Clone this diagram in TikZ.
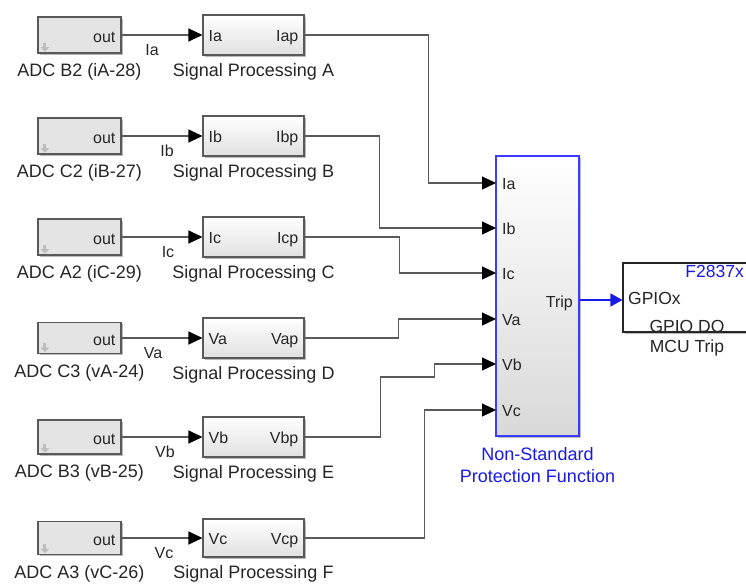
\documentclass[tikz,border=0pt]{standalone}
\usepackage{fontspec}
\setmainfont{Liberation Sans}
\usetikzlibrary{arrows.meta,shadows,calc}
\definecolor{linegray}{HTML}{5A5A5A}
\definecolor{txt}{HTML}{262626}
\definecolor{sblue}{HTML}{1A1AE6}
\definecolor{bborder}{HTML}{3C3CFF}
\definecolor{adcfill}{HTML}{E4E4E4}
\definecolor{icongray}{HTML}{BDBDBD}
\tikzset{
  lbl/.style={inner sep=0pt, text=txt, font=\fontsize{18}{20}\selectfont},
  port/.style={inner sep=0pt, text=txt, font=\fontsize{16}{18}\selectfont},
  gport/.style={inner sep=0pt, text=txt, font=\fontsize{17.5}{19}\selectfont},
  adcbox/.style={draw=black!65, line width=1.1pt, fill=adcfill, minimum width=83pt, inner sep=0pt,
    drop shadow={shadow xshift=1.5pt, shadow yshift=-1.5pt, fill=black!45, opacity=.6}},
  spbox/.style={draw=black!65, line width=1.1pt, top color=white, bottom color=black!12, minimum width=101pt, minimum height=40pt, inner sep=0pt,
    drop shadow={shadow xshift=1.5pt, shadow yshift=-1.5pt, fill=black!45, opacity=.6}},
  protbox/.style={draw=bborder, line width=1.1pt, top color=white, bottom color=black!15, minimum width=83pt, minimum height=280pt, inner sep=0pt,
    drop shadow={shadow xshift=1.5pt, shadow yshift=-1.5pt, fill=black!45, opacity=.6}},
  gpiobox/.style={draw=black!85, line width=1.1pt, fill=white, minimum width=126pt, minimum height=69pt, inner sep=0pt,
    drop shadow={shadow xshift=1.5pt, shadow yshift=-1.5pt, fill=black!45, opacity=.6}},
  conn/.style={draw=linegray, line width=1.1pt, -{Triangle[length=14pt,width=13pt,color=black]}},
  bconn/.style={draw=sblue, line width=1.1pt, -{Triangle[length=12pt,width=13pt,color=sblue]}},
  icon/.style={fill=icongray},
}
\begin{document}
\begin{tikzpicture}[x=1pt, y=-1pt]
\useasboundingbox[fill=white] (0,0) rectangle (746,584);

\foreach \i/\y/\h/\hs/\pin/\pout/\adcl/\spl/\sx in {
 1/35/36/40/Ia/Iap/{ADC B2 (iA-28)}/A/152,
 2/136/36/40/Ib/Ibp/{ADC C2 (iB-27)}/B/167,
 3/237/36/40/Ic/Icp/{ADC A2 (iC-29)}/C/168,
 4/338/31/40/Va/Vap/{ADC C3 (vA-24)}/D/153,
 5/437/34/40/Vb/Vbp/{ADC B3 (vB-25)}/E/165,
 6/538/33/38/Vc/Vcp/{ADC A3 (vC-26)}/F/164}
{
  \node[adcbox, minimum height=\h pt] (adc\i) at (79.5,\y) {};
  \node[port, anchor=base east] (out\i) at ($(adc\i.east)+(-6,7)$) {out};
  \path (adc\i.south west) ++(7.5,-11) coordinate (ic\i);
  \fill[icon] ($(ic\i)+(-1.5,0)$) rectangle ($(ic\i)+(1.5,5)$);
  \fill[icon] ($(ic\i)+(-4.5,4.5)$) -- ($(ic\i)+(4.5,4.5)$) -- ($(ic\i)+(0,9)$) -- cycle;
  \node[lbl, anchor=base] (adcl\i) at ($(adc\i.south)+(0,23)$) {\adcl};
  \node[spbox, minimum height=\hs pt] (sp\i) at (253.5,\y) {};
  \node[port, anchor=base west] (spin\i) at ($(sp\i.west)+(6,6)$) {\pin};
  \node[port, anchor=base east] (spout\i) at ($(sp\i.east)+(-6,6)$) {\pout};
  \node[lbl, anchor=base] (spl\i) at ($(sp\i.south)+(0,21)$) {Signal Processing \spl};
  \draw[conn] (adc\i) -- (sp\i);
  \node[port, anchor=base] (sig\i) at (\sx,\y+20) {\pin};
}

% protection block
\node[protbox] (prot) at (537.5,296) {};
\foreach \n/\yy in {Ia/183, Ib/228, Ic/273, Va/319, Vb/364, Vc/410}{
  \coordinate (p\n) at (496,\yy);
  \node[port, anchor=base west] (pl\n) at (502,\yy+6) {\n};
}
\node[port, anchor=base east] (trip) at (573,307) {Trip};
\node[inner sep=0pt, text=sblue, font=\fontsize{18}{22}\selectfont, anchor=base] (protl1) at (537.5,460) {Non-Standard};
\node[inner sep=0pt, text=sblue, font=\fontsize{18}{22}\selectfont, anchor=base] (protl2) at (537.5,482) {Protection Function};

% connectors to protection block
\draw[conn] (sp1.east) -- ++(124,0) |- (pIa);
\draw[conn] (sp2.east) -- ++(75,0) |- (pIb);
\draw[conn] (sp3.east) -- ++(95,0) |- (pIc);
\draw[conn] (sp4.east) -- ++(94,0) |- (pVa);
\draw[conn] (sp5.east) -- ++(76,0) |- ++(54,-60) |- (pVb);
\draw[conn] (sp6.east) -- ++(120,0) |- (pVc);

% GPIO block
\node[gpiobox] (gpio) at (686,297.5) {};
\node[gport, anchor=base east, text=sblue] (fam) at (744,277) {F2837x};
\node[gport, anchor=base west] (gpiox) at (628,304) {GPIOx};
\node[gport, anchor=base] (gpiodo) at (687,332) {GPIO DO};
\node[gport, anchor=base] (mcu) at (687,352) {MCU Trip};
\coordinate (tripy) at (0,300);
\draw[bconn] (prot.east |- tripy) -- (gpio.west |- tripy);
\end{tikzpicture}
\end{document}
